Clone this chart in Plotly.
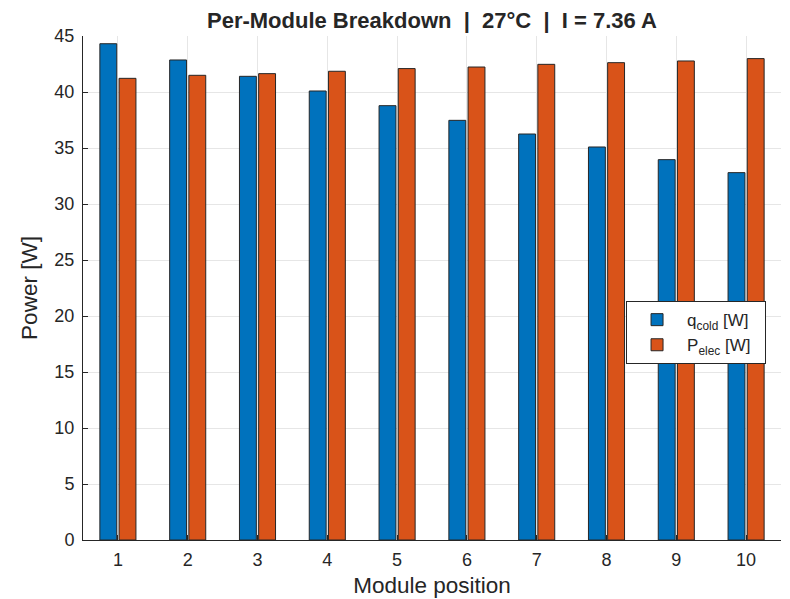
import plotly.graph_objects as go

modules = [1, 2, 3, 4, 5, 6, 7, 8, 9, 10]
q_cold = [44.31, 42.86, 41.40, 40.09, 38.78, 37.47, 36.25, 35.09, 33.96, 32.80]
p_elec = [41.22, 41.49, 41.64, 41.85, 42.09, 42.23, 42.47, 42.62, 42.77, 42.98]
y_ticks = [0, 5, 10, 15, 20, 25, 30, 35, 40, 45]

FONT = "Liberation Sans, Arial, Helvetica, sans-serif"
INK = "#262626"
NB = "\u00a0"

fig = go.Figure()
fig.add_trace(go.Bar(x=modules, y=q_cold, name="q<sub>cold</sub> [W]" + NB * 2,
                     marker=dict(color="#0072BD", line=dict(color=INK, width=1))))
fig.add_trace(go.Bar(x=modules, y=p_elec, name="P<sub>elec</sub> [W]" + NB * 2,
                     marker=dict(color="#D95319", line=dict(color=INK, width=1))))

title_text = f"<b>Per-Module Breakdown {NB}|{NB} 27°C {NB}|{NB} I = 7.36 A</b>"

fig.update_layout(
    width=782, height=591,
    margin=dict(l=75, r=9, t=28, b=59),
    paper_bgcolor="white", plot_bgcolor="white",
    font=dict(family=FONT, color=INK),
    barmode="group", bargap=0.45, bargroupgap=0.12,
    title=dict(text=title_text,
               x=0.5, xref="paper", xanchor="center", y=1 - 12 / 591, yref="container",
               yanchor="middle", font=dict(size=22, color=INK)),
    xaxis=dict(range=[0.5, 10.5], tickvals=modules, ticktext=[str(m) for m in modules],
               showgrid=True, gridcolor="#e6e6e6", gridwidth=1,
               showline=True, linecolor=INK, linewidth=1,
               ticks="inside", ticklen=5, tickcolor=INK,
               tickfont=dict(size=18, color=INK), ticklabelstandoff=3,
               title=dict(text="Module position", font=dict(size=22.5, color=INK), standoff=8),
               zeroline=False, automargin=False),
    yaxis=dict(range=[0, 45], tickvals=y_ticks,
               showgrid=True, gridcolor="#e6e6e6", gridwidth=1,
               showline=True, linecolor=INK, linewidth=1,
               ticks="inside", ticklen=5, tickcolor=INK,
               tickfont=dict(size=18, color=INK), ticklabelstandoff=4,
               title=dict(text="Power [W]", font=dict(size=22.5, color=INK), standoff=10),
               zeroline=False, automargin=False),
    legend=dict(x=0.778, y=0.474, xanchor="left", yanchor="top",
                bgcolor="white", bordercolor=INK, borderwidth=1,
                font=dict(size=17, color=INK),
                itemwidth=50, tracegroupgap=0),
    showlegend=True,
)

fig.write_html("out.html")
